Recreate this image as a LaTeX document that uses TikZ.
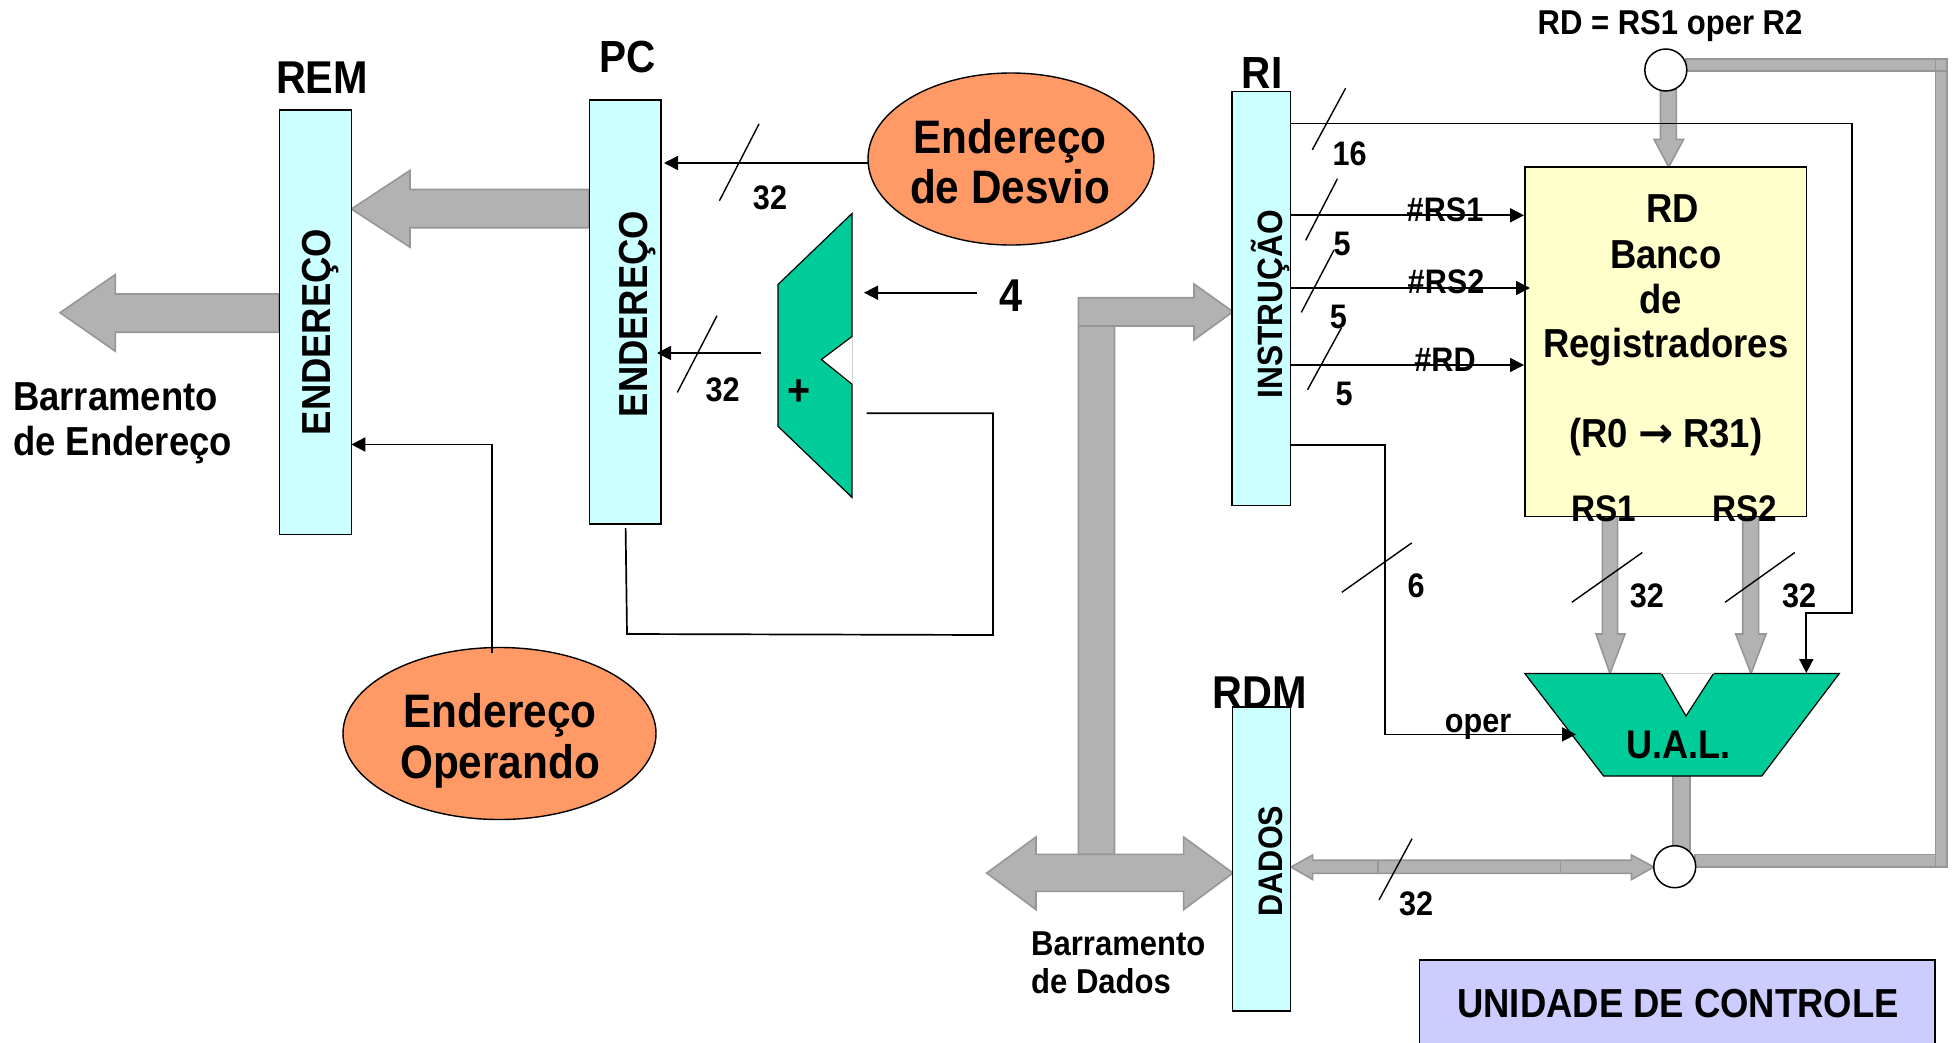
\documentclass[tikz,border=0pt]{standalone}
\usepackage{fontspec}
\setmainfont{Liberation Sans}[FakeStretch=0.9]
\newfontfamily\arrowfont{DejaVu Sans}
\usetikzlibrary{arrows.meta,shapes.geometric}
\definecolor{regcyan}{HTML}{CCFFFF}
\definecolor{regyellow}{HTML}{FFFFCC}
\definecolor{ovalorange}{HTML}{FF9966}
\definecolor{alugreen}{HTML}{00CC99}
\definecolor{busgray}{HTML}{B2B2B2}
\definecolor{busline}{HTML}{969696}
\definecolor{ctrlblue}{HTML}{CCCCFF}
\tikzset{
  regbox/.style={draw=black,line width=1.6pt,fill=regcyan,rectangle,inner sep=0pt,outer sep=0pt},
  bankbox/.style={regbox,fill=regyellow},
  ctrlbox/.style={regbox,fill=ctrlblue},
  oval/.style={draw=black,line width=1.4pt,fill=ovalorange,ellipse,inner sep=0pt,outer sep=0pt},
  bus/.style={draw=busline,line width=1.6pt,fill=busgray},
  busedge/.style={draw=busline,line width=1.2pt},
  alu/.style={draw=black,line width=1.2pt,fill=alugreen},
  notch/.style={draw=busgray!60,line width=1pt},
  wire/.style={draw=black,line width=1.7pt},
  sig/.style={wire,-{Triangle[length=14pt,width=14pt]}},
  tick/.style={draw=black,line width=1.4pt},
  junction/.style={circle,draw=black,line width=1.5pt,fill=white,minimum size=42pt,inner sep=0pt,outer sep=0pt},
  lab/.style={font=\bfseries\fontsize{#1}{#1}\selectfont,inner sep=0pt,align=center},
  vlab/.style={font=\bfseries\fontsize{#1}{#1}\selectfont,inner sep=0pt,rotate=90,anchor=base},
}
\begin{document}
\begin{tikzpicture}[x=1pt,y=-1pt]
\useasboundingbox (0,0) rectangle (1956,1042);
% gray buses (behind boxes)
\draw[bus] (589,189.5) -- (410,189.5) -- (410,170.4) -- (351.4,209) -- (410,247.2) -- (410,227.7) -- (589,227.7) -- cycle;
\draw[bus] (279,294) -- (115.4,294) -- (115.4,274.5) -- (60,312.7) -- (115.4,351.3) -- (115.4,332.2) -- (279,332.2) -- cycle;
\draw[bus] (1078.3,854.3) -- (1078.3,297.7) -- (1194,297.7) -- (1194,284) -- (1233,311.7) -- (1194,340) -- (1194,326) -- (1114.5,326) -- (1114.5,854.3) -- cycle;
\draw[busedge] (1078.3,326) -- (1114.5,326);
\draw[bus] (986.7,873) -- (1036,837) -- (1036,854.3) -- (1183.6,854.3) -- (1183.6,837) -- (1233,873) -- (1183.6,909.6) -- (1183.6,891.3) -- (1036,891.3) -- (1036,909.6) -- cycle;
\draw[bus] (1686,59) -- (1947,59) -- (1947,867) -- (1695,867) -- (1695,854.6) -- (1935.3,854.6) -- (1935.3,71) -- (1686,71) -- cycle;
\draw[busedge] (1935.3,59) -- (1935.3,71) -- (1947,71);
\draw[busedge] (1935.3,854.6) -- (1935.3,867);
\draw[bus] (1660.5,90) -- (1676.4,90) -- (1676.4,139.3) -- (1683.6,139.3) -- (1668.7,167) -- (1654,139.3) -- (1660.5,139.3) -- cycle;
\draw[bus] (1602.3,516) -- (1617.6,516) -- (1617.6,634) -- (1625,634) -- (1610,673.5) -- (1596,634) -- (1602.3,634) -- cycle;
\draw[bus] (1742.7,516) -- (1758.6,516) -- (1758.6,634) -- (1766,634) -- (1751,673.5) -- (1735.7,634) -- (1742.7,634) -- cycle;
\draw[bus] (1672.8,776) -- (1690,776) -- (1690,850) -- (1672.8,850) -- cycle;
\draw[bus] (1291,867) -- (1312.6,855) -- (1312.6,860.2) -- (1631.5,860.2) -- (1631.5,855) -- (1653.8,867) -- (1631.5,879.5) -- (1631.5,873.3) -- (1312.6,873.3) -- (1312.6,879.5) -- cycle;
\draw[busedge] (1378,860.2) -- (1378,873.3) (1560.4,860.2) -- (1560.4,873.3);
% registers
\node[regbox,minimum width=72pt,minimum height=424.6pt] (rembox) at (315.3,322) {};
\node[regbox,minimum width=71.4pt,minimum height=424.2pt] (pcbox) at (625,311.8) {};
\node[regbox,minimum width=58.8pt,minimum height=414.1pt] (ribox) at (1261.2,298.35) {};
\node[regbox,minimum width=57.9pt,minimum height=304.2pt] (rdmbox) at (1261.45,858.8) {};
\node[bankbox,minimum width=281.6pt,minimum height=349.6pt] (bank) at (1665.8,341.8) {};
\node[ctrlbox,minimum width=515.7pt,minimum height=100.3pt] (ctrl) at (1677.15,1009.85) {};
% register names
\node[vlab=40.5] (e1) at (330.4,332) {ENDEREÇO};
\node[vlab=40.5] (e2) at (647.3,314) {ENDEREÇO};
\node[vlab=35.2] (e3) at (1282,304) {INSTRUÇÃO};
\node[vlab=34] (e4) at (1282,861) {DADOS};
\node[lab=46] (rem) at (322,78) {REM};
\node[lab=45] (pc) at (628,57.5) {PC};
\node[lab=45] (ri) at (1262,73) {RI};
\node[lab=46] (rdm) at (1260,692.5) {RDM};
% ovals
\node[oval,minimum width=286pt,minimum height=172pt] (desvio) at (1011,159) {};
\node[oval,minimum width=313pt,minimum height=172pt] (operando) at (499.5,733.5) {};
\node[lab=47] (d1) at (1010,141) {Endereço};
\node[lab=47] (d2) at (1010,187) {de Desvio};
\node[lab=47] (o1) at (500,715) {Endereço};
\node[lab=47] (o2) at (500,766) {Operando};
% adder
\draw[alu] (852,213.4) -- (778,284.5) -- (778,426.3) -- (852,497.4) -- (852,384.2) -- (821.4,359.5) -- (852,336.5) -- cycle;
\draw[notch] (852,336.5) -- (852,384.2);
\node[lab=44] (plus) at (799,392.5) {+};
% ALU
\draw[alu] (1524.8,673.5) -- (1661.4,673.5) -- (1686,716) -- (1713.5,673.5) -- (1839.3,673.5) -- (1761.8,776) -- (1603.6,776) -- cycle;
\draw[notch] (1661.4,673.5) -- (1713.5,673.5);
\node[lab=40] (ual) at (1678.5,744.7) {U.A.L.};
% junctions
\node[junction] (jtop) at (1665.8,70) {};
\node[junction] (jbot) at (1674.7,866.7) {};
% free ends of the connectors
\coordinate (a2) at (664,163);
\coordinate (b1) at (977,292.7);
\coordinate (b2) at (864,292.7);
\coordinate (c1) at (761,353);
\coordinate (c2) at (657,353);
\coordinate (l1) at (625.6,528);
\coordinate (l2) at (627,634);
\coordinate (l3) at (993,635);
\coordinate (l4) at (993,413.3);
\coordinate (l5) at (866.7,413.3);
\coordinate (m2) at (491.7,444.5);
\coordinate (n2) at (1852,123.4);
\coordinate (n3) at (1852,613);
\coordinate (n4) at (1806.3,613);
\coordinate (n5) at (1806.3,673);
\coordinate (p2) at (1524,215.3);
\coordinate (q2) at (1530,288);
\coordinate (r2) at (1524,365);
\coordinate (s2) at (1385,445);
\coordinate (s3) at (1385,734.4);
\coordinate (s4) at (1576,734.4);
% thin connectors
\draw[sig] (desvio.west |- a2) -- (a2);
\draw[sig] (b1) -- (b2);
\draw[sig] (c1) -- (c2);
\draw[wire] (l1) -- (l2) -- (l3) -- (l4) -- (l5);
\draw[sig,shorten <=-5pt] (operando.north -| m2) -- (m2) -- (rembox.east |- m2);
\draw[sig] (ribox.east |- n2) -- (n2) -- (n3) -- (n4) -- (n5);
\draw[sig] (ribox.east |- p2) -- (p2);
\draw[sig] (ribox.east |- q2) -- (q2);
\draw[sig] (ribox.east |- r2) -- (r2);
\draw[sig] (ribox.east |- s2) -- (s2) -- (s3) -- (s4);
% width ticks
\draw[tick] (759,124) -- (719.4,200.8);
\draw[tick] (717,315.7) -- (677.3,392.5);
\draw[tick] (1345.6,88.2) -- (1312.3,149.8);
\draw[tick] (1337.4,178.8) -- (1305.6,240.4);
\draw[tick] (1334,250) -- (1301.3,312.4);
\draw[tick] (1341.3,328) -- (1307.5,389.8);
\draw[tick] (1411.7,542.9) -- (1341.8,592.3);
\draw[tick] (1642.3,552.5) -- (1571.8,602.3);
\draw[tick] (1794.8,552.5) -- (1725,602.3);
\draw[tick] (1412,838.7) -- (1379,900);
% small labels
\node[lab=34] (w1) at (770,198) {32};
\node[lab=34] (w2) at (722.6,389.4) {32};
\node[lab=34] (w3) at (1349.5,154) {16};
\node[lab=34] (w4) at (1342,244) {5};
\node[lab=34] (w5) at (1338.4,317) {5};
\node[lab=34] (w6) at (1344,394) {5};
\node[lab=34] (w7) at (1416,585.7) {6};
\node[lab=34] (w8) at (1646.8,595.7) {32};
\node[lab=34] (w9) at (1799,595.7) {32};
\node[lab=34] (w10) at (1416,903.7) {32};
\node[lab=34] (t1) at (1445,210) {\#RS1};
\node[lab=34] (t2) at (1446,281.6) {\#RS2};
\node[lab=34] (t3) at (1445,360) {\#RD};
\node[lab=34] (t4) at (1478,727) {oper};
\node[lab=46] (four) at (1011,296) {4};
\node[lab=34.5] (eq) at (1670,26) {RD = RS1 oper R2};
% bank text
\node[lab=40.5] (b01) at (1672.5,209) {RD};
\node[lab=40.5] (b02) at (1665.8,255) {Banco};
\node[lab=40.5] (b03) at (1660.5,299) {de};
\node[lab=40.5] (b04) at (1665.8,347.5) {Registradores};
\node[lab=40.5] (b05) at (1665.8,437) {(R0 {\arrowfont\bfseries\fontsize{42}{42}\selectfont →} R31)};
\node[lab=37] (b06) at (1603.6,508.8) {RS1};
\node[lab=37] (b07) at (1745,509) {RS2};
% bus captions
\node[lab=40.5,anchor=base west] (k1) at (13,410) {Barramento};
\node[lab=40.5,anchor=base west] (k2) at (13,455.5) {de Endereço};
\node[lab=34.5,anchor=base west] (k3) at (1031,955) {Barramento};
\node[lab=34.5,anchor=base west] (k4) at (1031,993.5) {de Dados};
\node[lab=40.5] (uc) at (1678,1003.6) {UNIDADE DE CONTROLE};
\end{tikzpicture}
\end{document}
